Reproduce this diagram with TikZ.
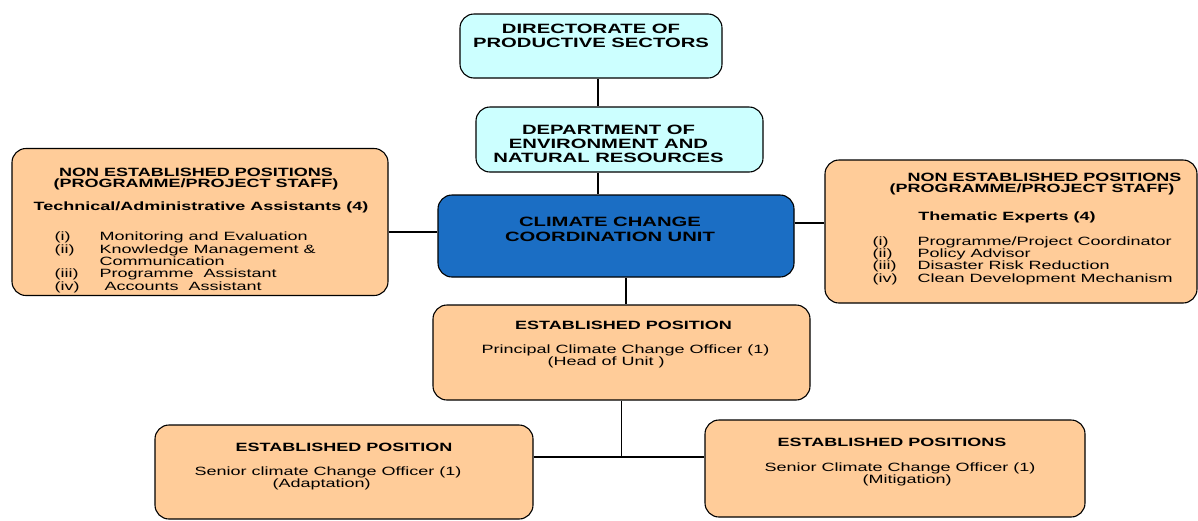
\documentclass[tikz,border=0pt]{standalone}
\usepackage{fontspec}
\setmainfont{Liberation Sans}[FakeStretch=1.5]
\usetikzlibrary{positioning}
\definecolor{PaleCyan}{HTML}{CCFFFF}
\definecolor{UnitBlue}{HTML}{1B6EC4}
\definecolor{Peach}{HTML}{FFCC99}
\newcommand{\titlefont}{\fontsize{13.5}{14}\selectfont\bfseries}
\newcommand{\unitfont}{\fontsize{13.5}{15.5}\selectfont\bfseries}
\newcommand{\posfont}{\fontsize{12}{11}\selectfont}
\newcommand{\listfont}{\fontsize{12}{12.3}\selectfont}
\newcommand{\itemno}[1]{\makebox[45pt][l]{#1}}

\begin{document}
\begin{tikzpicture}[x=1pt, y=1pt,
    orgbox/.style={draw=black, line width=1.1pt, rounded corners=14pt, inner sep=0pt},
    topbox/.style={orgbox, fill=PaleCyan},
    unitbox/.style={orgbox, fill=UnitBlue},
    posbox/.style={orgbox, fill=Peach},
    boxtitle/.style={inner sep=0pt, align=center, font=\titlefont},
    boxhead/.style={inner sep=0pt, align=center, font=\posfont\bfseries},
    boxtext/.style={inner sep=0pt, align=left, font=\posfont},
    boxlist/.style={inner sep=0pt, align=left, font=\listfont},
    link/.style={line width=1.3pt}]

    \useasboundingbox (0,0) rectangle (1198,-520);

    % Line of command
    \node[topbox, minimum width=262pt, minimum height=64pt] (dir) at (591,-46) {};
    \node[topbox, minimum width=287pt, minimum height=65pt] (dept) at (619.5,-139.5) {};
    \node[unitbox, minimum width=356pt, minimum height=82pt] (unit) at (616,-236) {};

    \node[boxtitle, below=10pt of dir.north] (dirlbl) {DIRECTORATE OF\\PRODUCTIVE SECTORS};
    \node[boxtitle, below=18pt of dept.north, xshift=-11pt] (deptlbl)
        {DEPARTMENT OF\\ENVIRONMENT AND\\NATURAL RESOURCES};
    \node[boxtitle, below=22pt of unit.north, xshift=-6pt, font=\unitfont] (unitlbl)
        {CLIMATE CHANGE\\COORDINATION UNIT};

    % Programme / project staff
    \node[posbox, minimum width=376pt, minimum height=147pt] (left) at (200,-222) {};
    \node[boxhead, below=20pt of left.north, xshift=-4pt] (lefthead)
        {NON ESTABLISHED POSITIONS\\(PROGRAMME/PROJECT STAFF)};
    \node[boxhead, below=54pt of left.north, xshift=1pt] (leftsub)
        {Technical/Administrative Assistants (4)};
    \node[boxlist, below right=84pt and 43pt of left.north west] (leftlist) {%
        \itemno{(i)}Monitoring and Evaluation\\
        \itemno{(ii)}Knowledge Management \&\\
        \hspace*{45pt}Communication\\
        \itemno{(iii)}Programme\ \ Assistant\\
        \itemno{(iv)}\ Accounts\ \ Assistant};

    \node[posbox, minimum width=372pt, minimum height=143pt] (right) at (1011,-231.5) {};
    \node[boxhead, below=13pt of right.north, xshift=21pt] (righthead)
        {\ \ \ \ \ NON ESTABLISHED POSITIONS\\(PROGRAMME/PROJECT STAFF)};
    \node[boxhead, below=52pt of right.north, xshift=-4pt] (rightsub)
        {Thematic Experts (4)};
    \node[boxlist, below right=77pt and 48pt of right.north west] (rightlist) {%
        \itemno{(i)}Programme/Project Coordinator\\
        \itemno{(ii)}Policy Advisor\\
        \itemno{(iii)}Disaster Risk Reduction\\
        \itemno{(iv)}Clean Development Mechanism};

    % Established positions
    \node[posbox, minimum width=377pt, minimum height=95pt] (head) at (621.5,-352.5) {};
    \node[boxhead, below=16pt of head.north, xshift=2pt] (headhead) {ESTABLISHED POSITION};
    \node[boxtext, below right=40pt and 49pt of head.north west] (headtext)
        {Principal Climate Change Officer (1)\\\hspace*{66pt}(Head of Unit )};

    \node[posbox, minimum width=378pt, minimum height=94pt] (adapt) at (344,-472) {};
    \node[boxhead, below=18pt of adapt.north] (adapthead) {ESTABLISHED POSITION};
    \node[boxtext, below right=42pt and 40pt of adapt.north west] (adapttext)
        {Senior climate Change Officer (1)\\\hspace*{78pt}(Adaptation)};

    \node[posbox, minimum width=380pt, minimum height=97pt] (mitig) at (895,-468.5) {};
    \node[boxhead, below=18pt of mitig.north, xshift=-3pt] (mitighead) {ESTABLISHED POSITIONS};
    \node[boxtext, below right=43pt and 60pt of mitig.north west] (mitigtext)
        {Senior Climate Change Officer (1)\\\hspace*{98pt}(Mitigation)};

    % Connectors
    \draw[link] ([xshift=7pt]dir.south) -- ([xshift=-21.5pt]dept.north);
    \draw[link] ([xshift=-21.5pt]dept.south) -- ([xshift=-18pt]unit.north);
    \draw[link] ([yshift=-10pt]left.east) -- ([yshift=4pt]unit.west);
    \draw[link] ([yshift=13pt]unit.east) -- ([yshift=8.5pt]right.west);
    \draw[link] ([xshift=10pt]unit.south) -- ([xshift=4.5pt]head.north);
    \coordinate (fork) at ([yshift=15pt]adapt.east);
    \draw[link] (head.south) -- (fork -| head.south);
    \draw[link] (fork) -- (fork -| mitig.west);
\end{tikzpicture}
\end{document}
